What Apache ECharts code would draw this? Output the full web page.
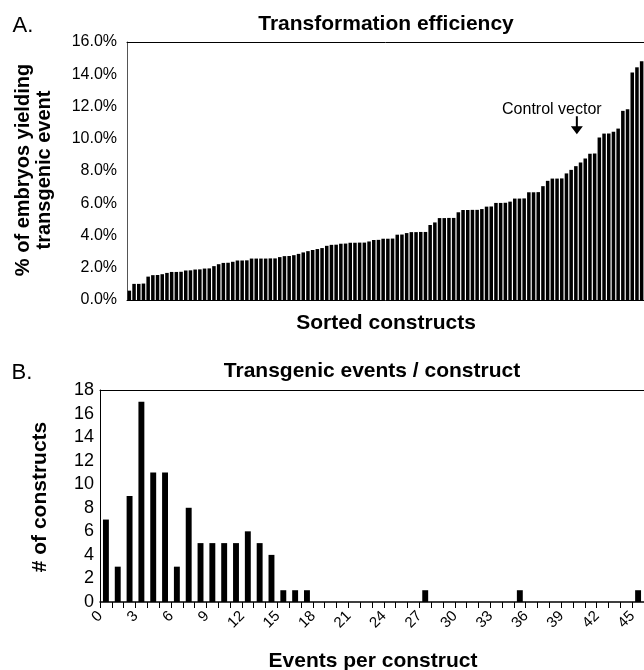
<!DOCTYPE html>
<html lang="en">
<head>
    <meta charset="UTF-8">
    <title>Transformation efficiency</title>
    <script src="https://cdn.jsdelivr.net/npm/echarts@6/dist/echarts.min.js"></script>
    <style>
        html, body { margin: 0; padding: 0; background: #fff; }
        #main { width: 644px; height: 670px; }
    </style>
</head>
<body>
<div id="main"></div>
<script>
    // panel A: % of embryos yielding a transgenic event, one bar per construct (sorted)
    var constructPct = [
        0.58, 1.00, 1.00, 1.02, 1.45, 1.54, 1.55, 1.60, 1.68, 1.74,
        1.74, 1.75, 1.83, 1.84, 1.89, 1.90, 1.95, 1.96, 2.10, 2.22,
        2.30, 2.31, 2.37, 2.45, 2.45, 2.46, 2.57, 2.57, 2.57, 2.57,
        2.58, 2.58, 2.66, 2.72, 2.73, 2.78, 2.86, 2.95, 3.03, 3.10,
        3.16, 3.22, 3.36, 3.42, 3.43, 3.49, 3.50, 3.55, 3.55, 3.56,
        3.56, 3.63, 3.72, 3.73, 3.80, 3.80, 3.81, 4.05, 4.06, 4.15,
        4.21, 4.21, 4.22, 4.22, 4.65, 4.81, 5.08, 5.08, 5.09, 5.09,
        5.44, 5.58, 5.58, 5.59, 5.59, 5.64, 5.79, 5.80, 6.02, 6.02,
        6.03, 6.10, 6.29, 6.29, 6.30, 6.68, 6.68, 6.69, 7.06, 7.39,
        7.53, 7.53, 7.54, 7.85, 8.07, 8.30, 8.53, 8.78, 9.07, 9.08,
        10.07, 10.32, 10.33, 10.44, 10.63, 11.73, 11.83, 14.11, 14.43, 14.80
    ];
    var constructNames = constructPct.map(function (v, i) { return 'construct ' + (i + 1); });
    var controlIndex = 95; // bar marked "Control vector"

    // panel B: histogram of transgenic events per construct
    var eventBins = ['0','1','2','3','4','5','6','7','8','9','10','11','12','13','14','15',
        '16','17','18','19','20','21','22','23','24','25','26','27','28','29','30','31',
        '32','33','34','35','36','37','38','39','40','41','42','43','44','45'];
    var constructCounts = [7, 3, 9, 17, 11, 11, 3, 8, 5, 5, 5, 5, 6, 5, 4, 1,
        1, 1, 0, 0, 0, 0, 0, 0, 0, 0, 0, 1, 0, 0, 0, 0,
        0, 0, 0, 1, 0, 0, 0, 0, 0, 0, 0, 0, 0, 1];

    var FONT = '"Liberation Sans", Arial, sans-serif';

    function txt(x, y, text, size, bold, rot) {
        return {
            type: 'text', x: x, y: y, rotation: rot || 0,
            style: {
                text: text, fill: '#000', align: 'center', verticalAlign: 'middle',
                font: (bold ? 'bold ' : '') + size + 'px ' + FONT, lineHeight: 21
            }
        };
    }

    // plain line along the top of a plot (the frame is cut off on the right)
    function topFrame(gridIndex) {
        return {
            type: 'value', gridIndex: gridIndex, position: 'top', min: 0, max: 1,
            axisLine: { show: true, lineStyle: { color: '#000' } },
            axisTick: { show: false }, axisLabel: { show: false }, splitLine: { show: false }
        };
    }

    var myChart = echarts.init(document.getElementById('main'));
    var option = {
        animation: false,
        backgroundColor: '#fff',
        grid: [
            { left: 127, top: 42, width: 519, height: 258 },
            { left: 100, top: 390, width: 546, height: 212 }
        ],
        xAxis: [
            {
                type: 'category', gridIndex: 0, data: constructNames,
                axisLine: { lineStyle: { color: '#000' } },
                axisTick: { show: false }, axisLabel: { show: false }
            },
            {
                type: 'category', gridIndex: 1, data: eventBins,
                axisLine: { lineStyle: { color: '#000', width: 1.5 } },
                axisTick: { show: true, interval: 0, length: 6, lineStyle: { color: '#000' } },
                axisLabel: {
                    interval: 2, rotate: 45, margin: 6, padding: [0, 8, 0, 0],
                    color: '#000', fontSize: 15, fontFamily: FONT
                }
            },
            topFrame(0),
            topFrame(1)
        ],
        yAxis: [
            {
                type: 'value', gridIndex: 0, min: 0, max: 16, interval: 2,
                axisLine: { show: true, lineStyle: { color: '#555' } },
                axisTick: { show: false }, splitLine: { show: false },
                axisLabel: {
                    margin: 10, color: '#000', fontSize: 16, fontFamily: FONT,
                    formatter: function (v) { return v.toFixed(1) + '%'; }
                }
            },
            {
                type: 'value', gridIndex: 1, min: 0, max: 18, interval: 2,
                axisLine: { show: true, lineStyle: { color: '#000' } },
                axisTick: { show: false }, splitLine: { show: false },
                axisLabel: { margin: 6, color: '#000', fontSize: 18, fontFamily: FONT }
            }
        ],
        series: [
            {
                type: 'bar', xAxisIndex: 0, yAxisIndex: 0,
                data: constructPct, barCategoryGap: '25%',
                itemStyle: { color: '#000' },
                markPoint: {
                    silent: true,
                    data: [{
                        coord: [controlIndex, constructPct[controlIndex]],
                        symbol: 'path://M5,0 L7,0 L7,10 L12,10 L6,18 L0,10 L5,10 Z',
                        symbolSize: [12, 18], symbolKeepAspect: false,
                        symbolOffset: [1, -41],
                        itemStyle: { color: '#000' },
                        label: {
                            show: true, position: 'top', distance: 0, offset: [-25, 1],
                            formatter: 'Control vector',
                            color: '#000', fontSize: 16, fontFamily: FONT
                        }
                    }]
                }
            },
            {
                type: 'bar', xAxisIndex: 1, yAxisIndex: 1,
                data: constructCounts, barWidth: '50%',
                itemStyle: { color: '#000' }
            }
        ],
        graphic: [
            txt(23, 26, 'A.', 22, false),
            txt(386, 24, 'Transformation efficiency', 21, true),
            txt(34, 170, '% of embryos yielding\ntransgenic event', 20, true, Math.PI / 2),
            txt(386, 323, 'Sorted constructs', 21, true),
            txt(22, 373, 'B.', 22, false),
            txt(372, 371, 'Transgenic events / construct', 21, true),
            txt(40, 497, '# of constructs', 21, true, Math.PI / 2),
            txt(373, 661, 'Events per construct', 21, true)
        ]
    };
    myChart.setOption(option, true);
</script>
</body>
</html>
